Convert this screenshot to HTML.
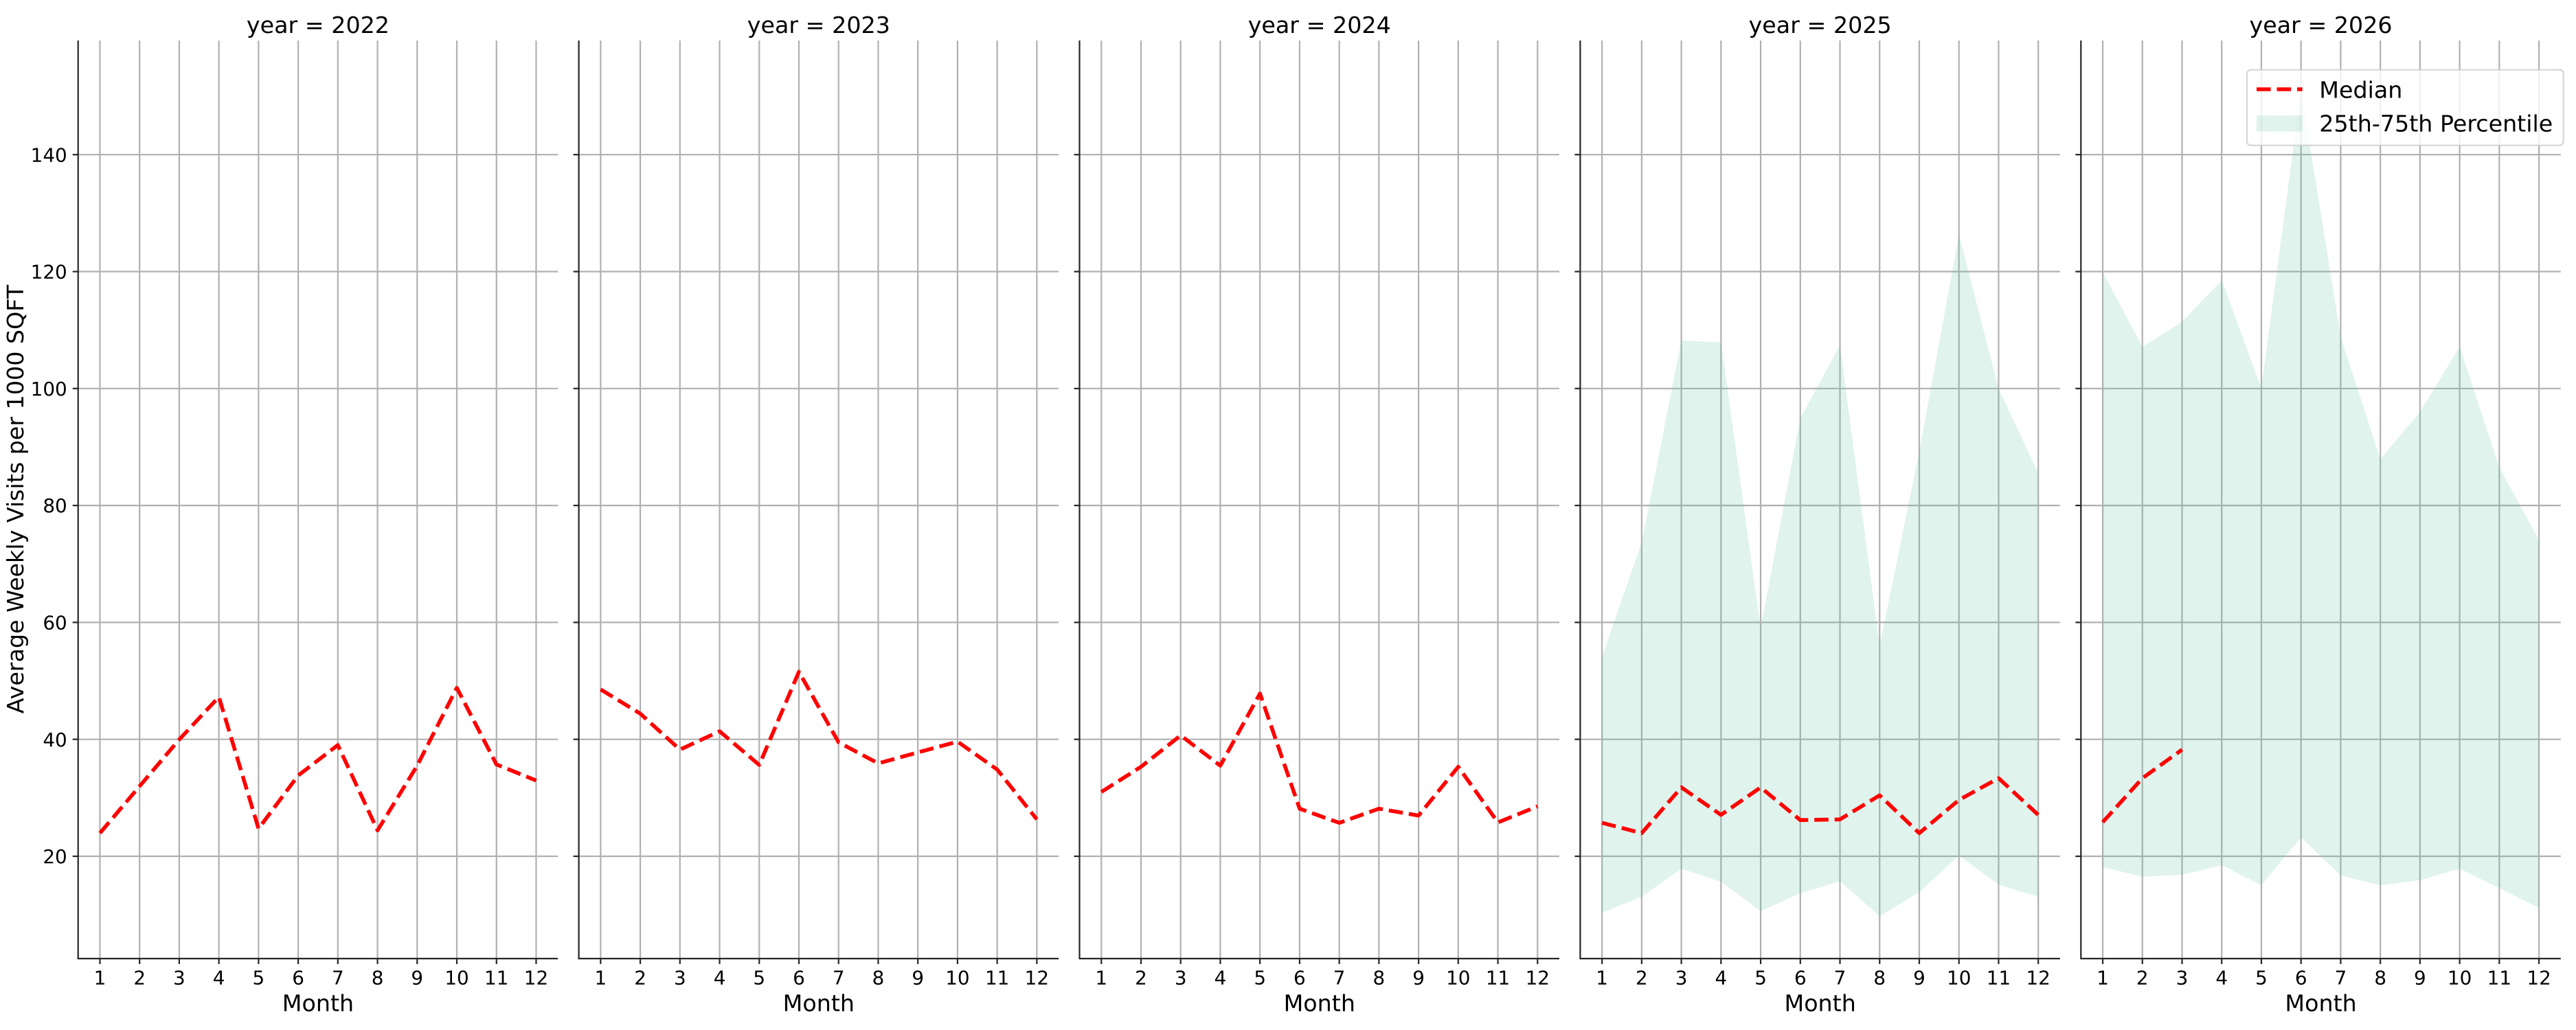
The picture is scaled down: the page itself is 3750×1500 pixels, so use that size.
<!DOCTYPE html>
<html>
<head>
<meta charset="utf-8">
<style>
html,body{margin:0;padding:0;background:#fff;}
svg{display:block;}
text{font-family:"DejaVu Sans","Liberation Sans",sans-serif;fill:#000;}
.tk{font-size:27.8px;}
.lb{font-size:33.3px;}
.grid line{stroke:#b0b0b0;stroke-width:2.2;}
.spine{stroke:#262626;stroke-width:2.2;fill:none;}
.tick line{stroke:#262626;stroke-width:2.2;}
.med{fill:none;stroke:#ff0000;stroke-width:5.56;stroke-dasharray:20.6 8.9;stroke-linejoin:round;stroke-linecap:butt;}
.band{fill:#66c2a5;fill-opacity:0.2;stroke:none;}
</style>
</head>
<body>
<svg width="3750" height="1500" viewBox="0 0 3750 1500" xmlns="http://www.w3.org/2000/svg">
<defs>
<g id="grid" class="grid">
  <line x1="31.75" y1="59" x2="31.75" y2="1396"/>
  <line x1="89.48" y1="59" x2="89.48" y2="1396"/>
  <line x1="147.21" y1="59" x2="147.21" y2="1396"/>
  <line x1="204.94" y1="59" x2="204.94" y2="1396"/>
  <line x1="262.67" y1="59" x2="262.67" y2="1396"/>
  <line x1="320.40" y1="59" x2="320.40" y2="1396"/>
  <line x1="378.13" y1="59" x2="378.13" y2="1396"/>
  <line x1="435.86" y1="59" x2="435.86" y2="1396"/>
  <line x1="493.59" y1="59" x2="493.59" y2="1396"/>
  <line x1="551.32" y1="59" x2="551.32" y2="1396"/>
  <line x1="609.05" y1="59" x2="609.05" y2="1396"/>
  <line x1="666.78" y1="59" x2="666.78" y2="1396"/>
  <line x1="0" y1="1247.0" x2="698.5" y2="1247.0"/>
  <line x1="0" y1="1076.7" x2="698.5" y2="1076.7"/>
  <line x1="0" y1="906.4" x2="698.5" y2="906.4"/>
  <line x1="0" y1="736.1" x2="698.5" y2="736.1"/>
  <line x1="0" y1="565.8" x2="698.5" y2="565.8"/>
  <line x1="0" y1="395.5" x2="698.5" y2="395.5"/>
  <line x1="0" y1="225.2" x2="698.5" y2="225.2"/>
</g>
<g id="axes">
  <g class="tick">
    <line x1="-8" y1="1247.0" x2="0" y2="1247.0"/>
    <line x1="-8" y1="1076.7" x2="0" y2="1076.7"/>
    <line x1="-8" y1="906.4" x2="0" y2="906.4"/>
    <line x1="-8" y1="736.1" x2="0" y2="736.1"/>
    <line x1="-8" y1="565.8" x2="0" y2="565.8"/>
    <line x1="-8" y1="395.5" x2="0" y2="395.5"/>
    <line x1="-8" y1="225.2" x2="0" y2="225.2"/>
    <line x1="31.75" y1="1396" x2="31.75" y2="1404"/>
    <line x1="89.48" y1="1396" x2="89.48" y2="1404"/>
    <line x1="147.21" y1="1396" x2="147.21" y2="1404"/>
    <line x1="204.94" y1="1396" x2="204.94" y2="1404"/>
    <line x1="262.67" y1="1396" x2="262.67" y2="1404"/>
    <line x1="320.40" y1="1396" x2="320.40" y2="1404"/>
    <line x1="378.13" y1="1396" x2="378.13" y2="1404"/>
    <line x1="435.86" y1="1396" x2="435.86" y2="1404"/>
    <line x1="493.59" y1="1396" x2="493.59" y2="1404"/>
    <line x1="551.32" y1="1396" x2="551.32" y2="1404"/>
    <line x1="609.05" y1="1396" x2="609.05" y2="1404"/>
    <line x1="666.78" y1="1396" x2="666.78" y2="1404"/>
  </g>
  <polyline class="spine" points="0,59 0,1396 698.5,1396"/>
</g>
</defs>

<!-- Panel 1: 2022 -->
<g transform="translate(113.7,0)">
  <use href="#grid"/>
  <polyline class="med" points="31.75,1213.3 89.48,1145 147.21,1077 204.94,1015 262.67,1206.7 320.40,1129.3 378.13,1085 435.86,1209.3 493.59,1115 551.32,1001.7 609.05,1113.3 666.78,1136.7"/>
  <use href="#axes"/>
  <text class="lb" x="349.25" y="48" text-anchor="middle">year = 2022</text>
  <g class="tk" text-anchor="middle">
    <text x="31.75" y="1433.5">1</text><text x="89.48" y="1433.5">2</text><text x="147.21" y="1433.5">3</text><text x="204.94" y="1433.5">4</text><text x="262.67" y="1433.5">5</text><text x="320.40" y="1433.5">6</text><text x="378.13" y="1433.5">7</text><text x="435.86" y="1433.5">8</text><text x="493.59" y="1433.5">9</text><text x="551.32" y="1433.5">10</text><text x="609.05" y="1433.5">11</text><text x="666.78" y="1433.5">12</text>
  </g>
  <text class="lb" x="349.25" y="1472.7" text-anchor="middle">Month</text>
  <g class="tk" text-anchor="end">
    <text x="-16" y="1257.1">20</text>
    <text x="-16" y="1086.8">40</text>
    <text x="-16" y="916.5">60</text>
    <text x="-16" y="746.2">80</text>
    <text x="-16" y="575.9">100</text>
    <text x="-16" y="405.6">120</text>
    <text x="-16" y="235.3">140</text>
  </g>
</g>

<!-- Panel 2: 2023 -->
<g transform="translate(842.6,0)">
  <use href="#grid"/>
  <polyline class="med" points="31.75,1004 89.48,1039.3 147.21,1091.7 204.94,1065 262.67,1114 320.40,978.3 378.13,1081 435.86,1111.7 493.59,1095.7 551.32,1080 609.05,1120.7 666.78,1193.3"/>
  <use href="#axes"/>
  <text class="lb" x="349.25" y="48" text-anchor="middle">year = 2023</text>
  <g class="tk" text-anchor="middle">
    <text x="31.75" y="1433.5">1</text><text x="89.48" y="1433.5">2</text><text x="147.21" y="1433.5">3</text><text x="204.94" y="1433.5">4</text><text x="262.67" y="1433.5">5</text><text x="320.40" y="1433.5">6</text><text x="378.13" y="1433.5">7</text><text x="435.86" y="1433.5">8</text><text x="493.59" y="1433.5">9</text><text x="551.32" y="1433.5">10</text><text x="609.05" y="1433.5">11</text><text x="666.78" y="1433.5">12</text>
  </g>
  <text class="lb" x="349.25" y="1472.7" text-anchor="middle">Month</text>
</g>

<!-- Panel 3: 2024 -->
<g transform="translate(1571.5,0)">
  <use href="#grid"/>
  <polyline class="med" points="31.75,1153.3 89.48,1116.7 147.21,1071 204.94,1115 262.67,1010 320.40,1177.7 378.13,1198.3 435.86,1177.7 493.59,1187.7 551.32,1116.7 609.05,1197.7 666.78,1174.3"/>
  <use href="#axes"/>
  <text class="lb" x="349.25" y="48" text-anchor="middle">year = 2024</text>
  <g class="tk" text-anchor="middle">
    <text x="31.75" y="1433.5">1</text><text x="89.48" y="1433.5">2</text><text x="147.21" y="1433.5">3</text><text x="204.94" y="1433.5">4</text><text x="262.67" y="1433.5">5</text><text x="320.40" y="1433.5">6</text><text x="378.13" y="1433.5">7</text><text x="435.86" y="1433.5">8</text><text x="493.59" y="1433.5">9</text><text x="551.32" y="1433.5">10</text><text x="609.05" y="1433.5">11</text><text x="666.78" y="1433.5">12</text>
  </g>
  <text class="lb" x="349.25" y="1472.7" text-anchor="middle">Month</text>
</g>

<!-- Panel 4: 2025 -->
<g transform="translate(2300.4,0)">
  <use href="#grid"/>
  <polygon class="band" points="31.75,956.6 89.48,789.7 147.21,496.0 204.94,498.5 262.67,914.9 320.40,609.2 378.13,502.8 435.86,940.5 493.59,657.8 551.32,341.9 609.05,565.8 666.78,689.3 666.78,1306 609.05,1288.3 551.32,1245.7 493.59,1299.3 435.86,1334.3 378.13,1283.3 320.40,1300.7 262.67,1326.7 204.94,1284.3 147.21,1265 89.48,1306 31.75,1329.3"/>
  <polyline class="med" points="31.75,1198.3 89.48,1213.3 147.21,1146.7 204.94,1186.7 262.67,1146.7 320.40,1194.3 378.13,1193.3 435.86,1158.3 493.59,1213.3 551.32,1165 609.05,1133.3 666.78,1186.7"/>
  <use href="#axes"/>
  <text class="lb" x="349.25" y="48" text-anchor="middle">year = 2025</text>
  <g class="tk" text-anchor="middle">
    <text x="31.75" y="1433.5">1</text><text x="89.48" y="1433.5">2</text><text x="147.21" y="1433.5">3</text><text x="204.94" y="1433.5">4</text><text x="262.67" y="1433.5">5</text><text x="320.40" y="1433.5">6</text><text x="378.13" y="1433.5">7</text><text x="435.86" y="1433.5">8</text><text x="493.59" y="1433.5">9</text><text x="551.32" y="1433.5">10</text><text x="609.05" y="1433.5">11</text><text x="666.78" y="1433.5">12</text>
  </g>
  <text class="lb" x="349.25" y="1472.7" text-anchor="middle">Month</text>
</g>

<!-- Panel 5: 2026 -->
<g transform="translate(3029.3,0)">
  <use href="#grid"/>
  <polygon class="band" points="31.75,396.3 89.48,505.3 147.21,468.7 204.94,408.3 262.67,565.0 320.40,131.5 378.13,490.9 435.86,668.8 493.59,599.9 551.32,505.3 609.05,680.8 666.78,786.3 666.78,1322.3 609.05,1293.3 551.32,1265 493.59,1281.7 435.86,1289.3 378.13,1275 320.40,1219.3 262.67,1289 204.94,1260 147.21,1274 89.48,1276.7 31.75,1262.7"/>
  <polyline class="med" points="31.75,1197.3 89.48,1133.3 147.21,1091.7"/>
  <use href="#axes"/>
  <text class="lb" x="349.25" y="48" text-anchor="middle">year = 2026</text>
  <g class="tk" text-anchor="middle">
    <text x="31.75" y="1433.5">1</text><text x="89.48" y="1433.5">2</text><text x="147.21" y="1433.5">3</text><text x="204.94" y="1433.5">4</text><text x="262.67" y="1433.5">5</text><text x="320.40" y="1433.5">6</text><text x="378.13" y="1433.5">7</text><text x="435.86" y="1433.5">8</text><text x="493.59" y="1433.5">9</text><text x="551.32" y="1433.5">10</text><text x="609.05" y="1433.5">11</text><text x="666.78" y="1433.5">12</text>
  </g>
  <text class="lb" x="349.25" y="1472.7" text-anchor="middle">Month</text>
</g>

<!-- Y axis label -->
<text class="lb" transform="translate(34,727) rotate(-90)" text-anchor="middle">Average Weekly Visits per 1000 SQFT</text>

<!-- Legend -->
<rect x="3271" y="101.7" width="460.7" height="110" rx="5.5" ry="5.5" fill="#ffffff" fill-opacity="0.8" stroke="#cccccc" stroke-opacity="0.8" stroke-width="2.2"/>
<line x1="3285" y1="130" x2="3351.7" y2="130" stroke="#ff0000" stroke-width="5.56" stroke-dasharray="20.6 8.9"/>
<rect x="3285" y="168.3" width="66.7" height="23.3" class="band"/>
<text class="lb" x="3376.3" y="142.7">Median</text>
<text class="lb" x="3376.3" y="191.7">25th-75th Percentile</text>
</svg>
</body>
</html>
